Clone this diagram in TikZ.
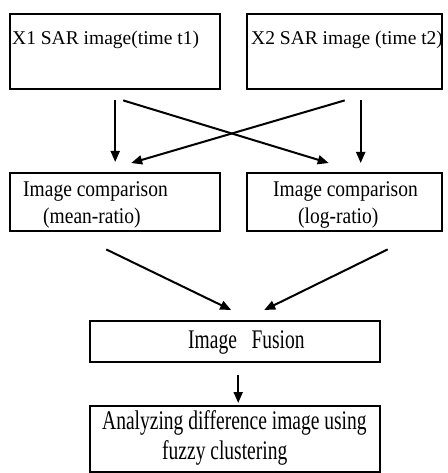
\documentclass[tikz,border=0pt]{standalone}
\usepackage{fontspec}
\setmainfont{Liberation Serif}
\usepackage{tikz}
\usetikzlibrary{arrows.meta}
\newcommand{\tallish}[2]{\scalebox{1}[#1]{#2}}

\begin{document}
\begin{tikzpicture}[
  x=1pt,
  y=-1pt,
  box/.style={
    draw=black,
    rectangle,
    line width=2.4pt,
    inner sep=0pt,
    anchor=north west
  },
  boxtext/.style={
    anchor=base west,
    inner sep=0pt,
    font=\fontsize{19.5}{22}\selectfont
  },
  flow/.style={
    -{Triangle[length=11pt,width=9pt]},
    draw=black,
    line width=2pt
  }
]
\useasboundingbox (0,0) rectangle (447,473);

% Input images
\node[box, minimum width=210pt, minimum height=75pt] (x1) at (9,13) {};
\node[box, minimum width=195pt, minimum height=75pt] (x2) at (246,13) {};
\node[boxtext] (x1t) at (12,45) {X1 SAR image(time t1)};
\node[boxtext] (x2t) at (251,45) {X2 SAR image (time t2)};

% Comparison boxes
\node[box, minimum width=210pt, minimum height=58pt] (mean) at (9,172) {};
\node[box, minimum width=195pt, minimum height=58pt] (logr) at (246,172) {};
\node[boxtext] (meant1) at (23,196) {\tallish{1.15}{Image comparison}};
\node[boxtext] (meant2) at (43,223) {\tallish{1.15}{(mean-ratio)}};
\node[boxtext] (logrt1) at (273,196) {\tallish{1.15}{Image comparison}};
\node[boxtext] (logrt2) at (298,223) {\tallish{1.15}{(log-ratio)}};

% Fusion and result
\node[box, minimum width=290pt, minimum height=41pt] (fusion) at (89,320) {};
\node[box, minimum width=290pt, minimum height=66pt] (diffimg) at (89,405) {};
\node[boxtext] (fusiont) at (188,348) {\tallish{1.38}{Image~~~Fusion}};
\node[boxtext] (difft1) at (102,429) {\tallish{1.38}{Analyzing difference image using}};
\node[boxtext] (difft2) at (162,459) {\tallish{1.38}{fuzzy clustering}};

% Straight and crossing arrows
\draw[flow] ([yshift=-10pt]x1.south) -- ([yshift=10pt]mean.north);
\draw[flow] ([xshift=16pt,yshift=-10pt]x2.south) -- ([xshift=16pt,yshift=9pt]logr.north);
\draw[flow] ([xshift=8pt,yshift=-10pt]x1.south) -- ([xshift=-16pt,yshift=9pt]logr.north);
\draw[flow] ([xshift=0pt,yshift=-10pt]x2.south) -- ([xshift=16pt,yshift=9pt]mean.north);

% Into fusion
\draw[flow] ([xshift=-9pt,yshift=-17pt]mean.south) -- ([xshift=-4pt,yshift=10pt]fusion.north);
\draw[flow] ([xshift=43pt,yshift=-17pt]logr.south) -- ([xshift=29pt,yshift=10pt]fusion.north);

% Final step
\draw[flow] ([xshift=3pt,yshift=-12pt]fusion.south) -- ([xshift=3pt,yshift=2pt]diffimg.north);

\end{tikzpicture}
\end{document}
